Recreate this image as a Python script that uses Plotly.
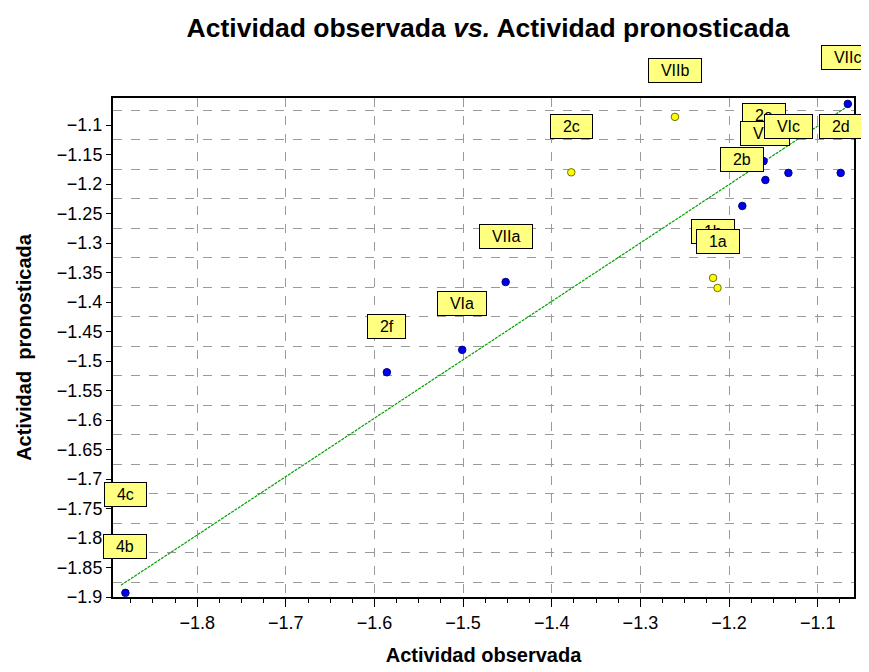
import plotly.graph_objects as go

# Data
labels = ["4c", "4b", "2f", "VIa", "VIIa", "2c", "VIIb", "1b", "1a",
          "2e", "VIb", "VIc", "2d", "2b", "VIIc"]
observed = [-1.881, -1.881, -1.586, -1.501, -1.452, -1.378, -1.261, -1.218, -1.213,
            -1.161, -1.159, -1.133, -1.074, -1.185, -1.066]
predicted = [-1.805, -1.893, -1.519, -1.481, -1.366, -1.180, -1.086, -1.359, -1.376,
             -1.161, -1.193, -1.181, -1.181, -1.237, -1.064]
group = ["b", "b", "b", "b", "b", "y", "y", "y", "y",
         "b", "b", "b", "b", "b", "b"]

fit_x = [-1.886, -1.066]
fit_y = [-1.880, -1.068]

x_range = [-1.895, -1.059]
y_range = [-1.9, -1.054]

FONT = "Liberation Sans, Arial, sans-serif"

fill = {"b": "#0000ee", "y": "#ffff00"}
edge = {"b": "#000080", "y": "#707000"}

fig = go.Figure()

fig.add_trace(go.Scatter(
    x=fit_x, y=fit_y, mode="lines",
    line=dict(color="#00a000", width=1.2, dash="3px,1px"),
    hoverinfo="skip", showlegend=False))

fig.add_trace(go.Scatter(
    x=observed, y=predicted, mode="markers",
    marker=dict(size=7.5, color=[fill[g] for g in group],
                line=dict(color=[edge[g] for g in group], width=1)),
    text=labels, showlegend=False))

for lab, xv, yv in zip(labels, observed, predicted):
    fig.add_annotation(
        x=xv, y=yv, xref="x", yref="y",
        text="&nbsp;&nbsp;" + lab + "&nbsp;&nbsp;",
        showarrow=False, yshift=46,
        bgcolor="#ffff80", bordercolor="black", borderwidth=1, borderpad=3,
        font=dict(family=FONT, size=16, color="black"))

# page body adds an 8px margin, so the figure is sized to fit the window
fig.update_layout(
    width=861, height=664,
    margin=dict(l=105, r=15, t=90, b=75),
    paper_bgcolor="white", plot_bgcolor="white",
    showlegend=False,
    title=dict(text="<b>Actividad observada <i>vs.</i> Actividad pronosticada</b>",
               x=0.5575, xanchor="center", y=0.971, yanchor="middle",
               font=dict(family=FONT, size=26.5, color="black")),
    font=dict(family=FONT, size=18, color="black"),
)

fig.update_xaxes(
    range=x_range, tick0=-1.8, dtick=0.1, tickformat=".1f",
    automargin=False,
    showgrid=True, gridcolor="#9a9a9a", griddash="dash", gridwidth=1,
    zeroline=False,
    showline=True, linecolor="black", linewidth=2, mirror=True,
    ticks="outside", ticklen=8, tickcolor="black", tickwidth=1,
    minor=dict(dtick=0.025, ticks="outside", ticklen=4, tickcolor="black",
               showgrid=False),
    tickfont=dict(family=FONT, size=18, color="black"),
    title=dict(text="<b>Actividad observada</b>", standoff=16,
               font=dict(family=FONT, size=20, color="black")),
)

fig.update_yaxes(
    range=y_range, tick0=-1.9, dtick=0.05,
    automargin=False,
    showgrid=False, zeroline=False,
    showline=True, linecolor="black", linewidth=2, mirror=True,
    ticks="outside", ticklen=5, tickcolor="black", tickwidth=1,
    minor=dict(tick0=-1.125, dtick=0.05, showgrid=True, gridcolor="#9a9a9a",
               griddash="dash", gridwidth=1, ticks=""),
    tickfont=dict(family=FONT, size=18, color="black"),
    title=dict(text="<b>Actividad  pronosticada</b>", standoff=20,
               font=dict(family=FONT, size=20, color="black")),
)

fig.write_html("out.html")
